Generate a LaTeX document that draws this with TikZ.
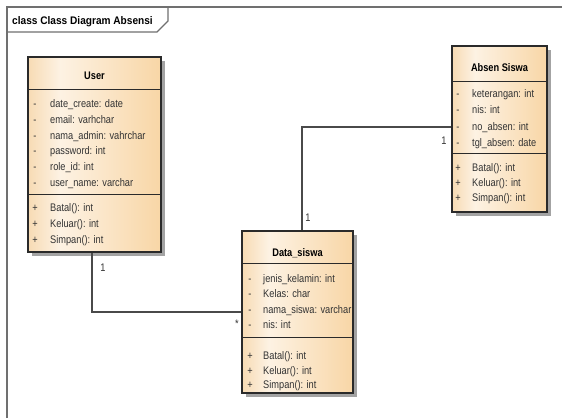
\documentclass[tikz,border=0pt]{standalone}
\usepackage{fontspec}
\setmainfont{Liberation Sans}
\newfontfamily\umlfont[FakeStretch=0.84]{Liberation Sans}
\newfontfamily\framefont[FakeStretch=0.92]{Liberation Sans}
\usetikzlibrary{shadows}

\definecolor{umlEdge}{HTML}{F7DBB4}
\definecolor{umlLight}{HTML}{FDF2E3}
\definecolor{umlRight}{HTML}{F8D6A6}
\definecolor{ink}{HTML}{2A2A2A}
\definecolor{textgray}{HTML}{333333}
\definecolor{framegray}{HTML}{707070}
\definecolor{shadowgray}{HTML}{A3A3A3}

% light band near the left edge, warmer towards both sides
\pgfdeclarehorizontalshading{classfill}{100bp}{color(0bp)=(umlEdge); color(25bp)=(umlEdge); color(37bp)=(umlLight); color(75bp)=(umlRight); color(100bp)=(umlRight)}

\tikzset{
  classbox/.style={draw=ink, line width=1.1pt, shading=classfill, inner sep=0pt,
    drop shadow={shadow xshift=4pt, shadow yshift=-4pt, fill=shadowgray, opacity=1}},
  sepline/.style={draw=ink, line width=1pt},
  frameline/.style={draw=framegray, line width=1.4pt},
  assoc/.style={draw=ink!85, line width=1.1pt},
  member/.style={anchor=base west, inner sep=0pt, font=\umlfont\fontsize{11}{13}\selectfont, text=textgray},
  vis/.style={anchor=base, inner sep=0pt, font=\umlfont\fontsize{11}{13}\selectfont, text=textgray},
  ctitle/.style={anchor=base, inner sep=0pt, font=\umlfont\fontsize{11}{13}\selectfont\bfseries, text=black},
  mult/.style={inner sep=0pt, font=\umlfont\fontsize{11}{13}\selectfont, text=textgray},
}

\begin{document}
\begin{tikzpicture}[x=1pt, y=-1pt]
\useasboundingbox (0,0) rectangle (562,418);
\fill[white] (0,0) rectangle (562,418);

% diagram frame with its name tab
\draw[frameline] (7,418) -- (7,7) -- (562,7);
\draw[frameline] (7,32) -- (157,32) -- (168,21) -- (168,7);
\node[anchor=base west, inner sep=0pt, font=\framefont\fontsize{11}{13}\selectfont\bfseries] (frametitle) at (12,24) {class Class Diagram Absensi};

% ---- class User ----
\node[classbox, minimum width=133pt, minimum height=195pt] (user) at (94.5,154.5) {};
\draw[sepline] (28,89) -- (161,89);
\draw[sepline] (28,194) -- (161,194);
\node[ctitle] (user-t) at (94.5,79) {User};
\foreach \y/\txt [count=\i] in {107/date\_create: date, 123/email: varhchar, 139/nama\_admin: vahrchar,
    154/password: int, 170/role\_id: int, 186/user\_name: varchar} {
  \node[vis] (user-av\i) at (35,\y) {-};
  \node[member] (user-a\i) at (50,\y) {\txt};
}
\foreach \y/\txt [count=\i] in {211/Batal(): int, 227/Keluar(): int, 243/Simpan(): int} {
  \node[vis] (user-mv\i) at (35,\y) {+};
  \node[member] (user-m\i) at (50,\y) {\txt};
}

% ---- class Absen Siswa ----
\node[classbox, minimum width=95pt, minimum height=166pt] (absen) at (499.5,129) {};
\draw[sepline] (452,81) -- (547,81);
\draw[sepline] (452,153) -- (547,153);
\node[ctitle] (absen-t) at (499.5,71) {Absen Siswa};
\foreach \y/\txt [count=\i] in {97/keterangan: int, 113.5/nis: int, 130/no\_absen: int, 146/tgl\_absen: date} {
  \node[vis] (absen-av\i) at (458,\y) {-};
  \node[member] (absen-a\i) at (472,\y) {\txt};
}
\foreach \y/\txt [count=\i] in {171/Batal(): int, 186/Keluar(): int, 201/Simpan(): int} {
  \node[vis] (absen-mv\i) at (458,\y) {+};
  \node[member] (absen-m\i) at (472,\y) {\txt};
}

% ---- class Data_siswa ----
\node[classbox, minimum width=111pt, minimum height=162pt] (data) at (297.5,312) {};
\draw[sepline] (242,263) -- (353,263);
\draw[sepline] (242,337) -- (353,337);
\node[ctitle] (data-t) at (297.5,256) {Data\_siswa};
\foreach \y/\txt [count=\i] in {282.5/jenis\_kelamin: int, 297.5/Kelas: char, 313/nama\_siswa: varchar, 328.5/nis: int} {
  \node[vis] (data-av\i) at (250,\y) {-};
  \node[member] (data-a\i) at (263,\y) {\txt};
}
\foreach \y/\txt [count=\i] in {359/Batal(): int, 374/Keluar(): int, 388/Simpan(): int} {
  \node[vis] (data-mv\i) at (250,\y) {+};
  \node[member] (data-m\i) at (263,\y) {\txt};
}

% ---- associations ----
\draw[assoc] ([xshift=-2.5pt]user.south) |- (data.west);
\draw[assoc] ([xshift=4.5pt]data.north) |- ([yshift=2pt]absen.west);

\node[mult] (m-user) at (103,268) {1};
\node[mult] (m-data1) at (237,324) {*};
\node[mult] (m-data2) at (308,218) {1};
\node[mult] (m-absen) at (444,141) {1};
\end{tikzpicture}
\end{document}
